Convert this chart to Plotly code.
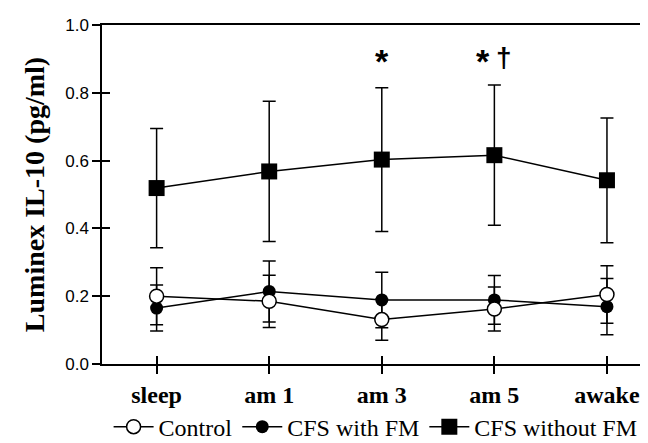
import plotly.graph_objects as go

categories = ["sleep", "am 1", "am 3", "am 5", "awake"]
control = [0.200, 0.185, 0.131, 0.162, 0.205]
control_err = [0.084, 0.077, 0.061, 0.065, 0.085]
cfs_fm = [0.165, 0.214, 0.189, 0.189, 0.169]
cfs_fm_err = [0.068, 0.090, 0.082, 0.072, 0.083]
cfs_nofm = [0.519, 0.568, 0.603, 0.616, 0.542]
cfs_nofm_err = [0.176, 0.207, 0.212, 0.207, 0.184]
y_ticks = [0.0, 0.2, 0.4, 0.6, 0.8, 1.0]

xpos = list(range(len(categories)))
serif = "Liberation Serif"

def err(arr):
    return dict(type="data", array=arr, visible=True, color="black",
                thickness=1.5, width=6.5)

fig = go.Figure()
fig.add_trace(go.Scatter(
    x=xpos, y=cfs_nofm, name="CFS without FM", mode="lines+markers",
    line=dict(color="black", width=1.5),
    marker=dict(symbol="square", size=16, color="black"),
    error_y=err(cfs_nofm_err)))
fig.add_trace(go.Scatter(
    x=xpos, y=cfs_fm, name="CFS with FM", mode="lines+markers",
    line=dict(color="black", width=1.5),
    marker=dict(symbol="circle", size=13, color="black"),
    error_y=err(cfs_fm_err)))
fig.add_trace(go.Scatter(
    x=xpos, y=control, name="Control", mode="lines+markers",
    line=dict(color="black", width=1.5),
    marker=dict(symbol="circle", size=14, color="white",
                line=dict(color="black", width=1.5)),
    error_y=err(control_err)))

xr = [-0.485, 4.4]
fig.update_layout(
    width=648, height=443,
    margin=dict(l=94, r=2, t=17, b=76),
    paper_bgcolor="white", plot_bgcolor="white",
    showlegend=True,
    legend=dict(orientation="h", x=0.012, xanchor="left", y=-0.186, yanchor="middle",
                font=dict(family=serif, size=24, color="black"),
                traceorder="reversed", itemwidth=40, bgcolor="rgba(0,0,0,0)"),
    xaxis=dict(range=xr, tickvals=xpos, ticktext=categories,
               ticks="outside", ticklen=8, tickwidth=1.5, tickcolor="black",
               showline=True, linecolor="black", linewidth=1.5, mirror=True,
               showgrid=False, zeroline=False,
               tickfont=dict(family=serif, size=24, color="black", weight="bold")),
    yaxis=dict(range=[0, 1], tickvals=y_ticks, tickformat=".1f",
               ticks="outside", ticklen=8, tickwidth=1.5, tickcolor="black",
               showline=True, linecolor="black", linewidth=1.5, mirror=True,
               showgrid=False, zeroline=False,
               tickfont=dict(family="Liberation Sans", size=17, color="black"),
               title=dict(text="Luminex IL-10 (pg/ml)", standoff=12,
                          font=dict(family=serif, size=28, color="black", weight="bold"))),
    xaxis2=dict(range=xr, overlaying="x", anchor="y", side="bottom",
                tickvals=xpos, ticks="inside", ticklen=8, tickwidth=1.5, tickcolor="black",
                showticklabels=False, showline=False, showgrid=False, zeroline=False),
    yaxis2=dict(range=[0, 1], overlaying="y", anchor="x", side="left",
                tickvals=y_ticks, ticks="inside", ticklen=8, tickwidth=1.5, tickcolor="black",
                showticklabels=False, showline=False, showgrid=False, zeroline=False),
)
# invisible trace to activate the overlay axes
fig.add_trace(go.Scatter(x=[xpos[0]], y=[y_ticks[0]], xaxis="x2", yaxis="y2",
                         mode="markers", marker=dict(opacity=0), showlegend=False,
                         hoverinfo="skip"))

star_font = dict(family="Liberation Sans", size=34, color="black", weight="bold")
fig.add_annotation(x=2, y=0.895, text="*", showarrow=False, font=star_font,
                   yanchor="middle")
fig.add_annotation(x=3, y=0.895, text="*", showarrow=False, font=star_font,
                   yanchor="middle", xshift=-11)
fig.add_annotation(x=3, y=0.905, text="†", showarrow=False,
                   font=dict(family="Liberation Sans", size=28, color="black", weight="bold"),
                   yanchor="middle", xshift=10)

fig.write_html("out.html")
